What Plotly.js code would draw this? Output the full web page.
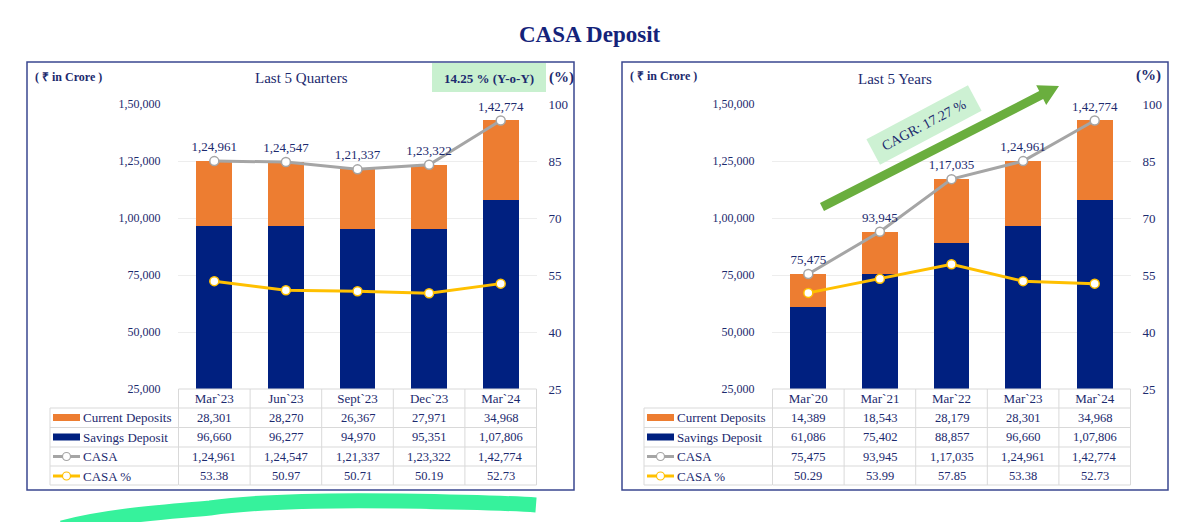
<!DOCTYPE html>
<html>
<head>
<meta charset="utf-8">
<script src="https://cdn.plot.ly/plotly-3.0.1.min.js"></script>
<style>html,body{margin:0;padding:0;background:#fff;}#chart{width:1200px;height:522px;}</style>
</head>
<body>
<div id="chart"></div>
<script>
// ---------- Data ----------
const quarters = ["Mar`23", "Jun`23", "Sept`23", "Dec`23", "Mar`24"];
const qCurrent = [28301, 28270, 26367, 27971, 34968];
const qSavings = [96660, 96277, 94970, 95351, 107806];
const qCasa    = [124961, 124547, 121337, 123322, 142774];
const qCasaPct = [53.38, 50.97, 50.71, 50.19, 52.73];

const years    = ["Mar`20", "Mar`21", "Mar`22", "Mar`23", "Mar`24"];
const yCurrent = [14389, 18543, 28179, 28301, 34968];
const ySavings = [61086, 75402, 88857, 96660, 107806];
const yCasa    = [75475, 93945, 117035, 124961, 142774];
const yCasaPct = [50.29, 53.99, 57.85, 53.38, 52.73];

const amtTickVals = [25000, 50000, 75000, 100000, 125000, 150000];
const amtTickText = ["25,000", "50,000", "75,000", "1,00,000", "1,25,000", "1,50,000"];
const pctTickVals = [25, 40, 55, 70, 85, 100];
const pctTickText = ["25", "40", "55", "70", "85", "100"];

const rowLabels = ["Current Deposits", "Savings Deposit", "CASA", "CASA %"];

// ---------- Helpers ----------
const W = 1200, H = 522;
const X = px => px / W;
const Y = py => 1 - py / H;
function inr(n) {
  const s = String(Math.round(n));
  if (s.length <= 3) return s;
  const last3 = s.slice(-3);
  let rest = s.slice(0, -3);
  const parts = [];
  while (rest.length > 2) { parts.unshift(rest.slice(-2)); rest = rest.slice(0, -2); }
  if (rest.length) parts.unshift(rest);
  return parts.join(",") + "," + last3;
}

const NAVY_TXT = "#1C2A6E";
const ORANGE = "#ED7D31";
const NAVY = "#002080";
const GREY = "#A5A5A5";
const YELLOW = "#FFC000";
const FONT = "Liberation Serif, Times New Roman, serif";

// ---------- Traces ----------
function panelTraces(cats, cur, sav, casa, pct, xa, ya, ya2) {
  return [
    {type: "bar", x: cats, y: sav, name: "Savings Deposit", marker: {color: NAVY}, xaxis: xa, yaxis: ya, hoverinfo: "skip"},
    {type: "bar", x: cats, y: cur, name: "Current Deposits", marker: {color: ORANGE}, xaxis: xa, yaxis: ya, hoverinfo: "skip"},
    {type: "scatter", mode: "lines+markers+text", x: cats, y: casa, name: "CASA",
      text: casa.map(inr), textposition: "top center", textfont: {family: FONT, size: 13, color: NAVY_TXT},
      line: {color: GREY, width: 3}, marker: {size: 9, color: "#fff", line: {color: GREY, width: 1.5}},
      xaxis: xa, yaxis: ya, cliponaxis: false, hoverinfo: "skip"},
    {type: "scatter", mode: "lines+markers", x: cats, y: pct, name: "CASA %",
      line: {color: YELLOW, width: 3}, marker: {size: 9, color: "#fff", line: {color: YELLOW, width: 1.5}},
      xaxis: xa, yaxis: ya2, cliponaxis: false, hoverinfo: "skip"}
  ];
}

const data = [
  ...panelTraces(quarters, qCurrent, qSavings, qCasa, qCasaPct, "x", "y", "y2"),
  ...panelTraces(years, yCurrent, ySavings, yCasa, yCasaPct, "x2", "y3", "y4")
];

// ---------- Axes ----------
const yDomain = [Y(389), Y(104)];
const tickFont = {family: FONT, size: 12, color: NAVY_TXT};
function xAxis(domain, anchor) {
  return {domain: domain, anchor: anchor, type: "category", showgrid: false, zeroline: false, showline: false,
    ticks: "", tickfont: {family: FONT, size: 13, color: NAVY_TXT},
    fixedrange: true};
}
function yAxisL(anchor) {
  return {domain: yDomain, anchor: anchor, range: [25000, 150000], tickvals: amtTickVals, ticktext: amtTickText,
    showgrid: true, gridcolor: "#EDEDED", gridwidth: 1, zeroline: false, showline: false,
    ticks: "outside", ticklen: 14, tickcolor: "rgba(0,0,0,0)", tickfont: tickFont, fixedrange: true};
}
function yAxisR(overlay, anchor) {
  return {overlaying: overlay, anchor: anchor, side: "right", range: [25, 100], tickvals: pctTickVals, ticktext: pctTickText,
    showgrid: false, zeroline: false, showline: false,
    ticks: "outside", ticklen: 8, tickcolor: "rgba(0,0,0,0)", tickfont: {family: FONT, size: 13, color: NAVY_TXT}, fixedrange: true};
}

// ---------- Table, boxes, decorations ----------
const shapes = [];
const annotations = [];
const lineGrey = {color: "#D9D9D9", width: 1};
const rowLinesY = [408, 427.5, 447, 466, 485];
const rowTextY = [417.5, 437, 456.5, 476];

function table(xref, labelLeft, colStart, cats, cur, sav, casa, pct) {
  const n = cats.length;
  shapes.push({type: "line", xref: xref, yref: "paper", x0: -0.5, x1: n - 0.5, y0: Y(389), y1: Y(389), line: lineGrey});
  rowLinesY.forEach(py => {
    shapes.push({type: "line", xref: "paper", yref: "paper", x0: X(labelLeft), x1: X(colStart), y0: Y(py), y1: Y(py), line: lineGrey});
    shapes.push({type: "line", xref: xref, yref: "paper", x0: -0.5, x1: n - 0.5, y0: Y(py), y1: Y(py), line: lineGrey});
  });
  for (let i = 0; i <= n; i++) {
    shapes.push({type: "line", xref: xref, yref: "paper", x0: i - 0.5, x1: i - 0.5, y0: Y(389), y1: Y(485), line: lineGrey});
  }
  shapes.push({type: "line", xref: "paper", yref: "paper", x0: X(labelLeft), x1: X(labelLeft), y0: Y(408), y1: Y(485), line: lineGrey});
  const rows = [cur.map(inr), sav.map(inr), casa.map(inr), pct.map(v => v.toFixed(2))];
  rows.forEach((vals, r) => {
    vals.forEach((v, i) => {
      annotations.push({xref: xref, yref: "paper", x: cats[i], y: Y(rowTextY[r]), text: v, showarrow: false,
        xanchor: "center", yanchor: "middle", font: {family: FONT, size: 12.5, color: NAVY_TXT}});
    });
  });
  const kx0 = labelLeft + 3, kx1 = labelLeft + 30;
  shapes.push({type: "rect", xref: "paper", yref: "paper", x0: X(kx0), x1: X(kx1), y0: Y(rowTextY[0] - 3.5), y1: Y(rowTextY[0] + 3.5), fillcolor: ORANGE, line: {width: 0}});
  shapes.push({type: "rect", xref: "paper", yref: "paper", x0: X(kx0), x1: X(kx1), y0: Y(rowTextY[1] - 3.5), y1: Y(rowTextY[1] + 3.5), fillcolor: NAVY, line: {width: 0}});
  [[2, GREY], [3, YELLOW]].forEach(([r, c]) => {
    const cy = rowTextY[r];
    shapes.push({type: "line", xref: "paper", yref: "paper", x0: X(kx0), x1: X(kx1), y0: Y(cy), y1: Y(cy), line: {color: c, width: 3}});
    const cx = (kx0 + kx1) / 2;
    shapes.push({type: "circle", xref: "paper", yref: "paper", x0: X(cx - 4), x1: X(cx + 4), y0: Y(cy - 4), y1: Y(cy + 4), fillcolor: "#fff", line: {color: c, width: 1.2}});
  });
  rowLabels.forEach((lab, r) => {
    annotations.push({xref: "paper", yref: "paper", x: X(kx1 + 1), y: Y(rowTextY[r]), text: lab, showarrow: false,
      xanchor: "left", yanchor: "middle", font: {family: FONT, size: 13, color: NAVY_TXT}});
  });
}
table("x", 50, 178, quarters, qCurrent, qSavings, qCasa, qCasaPct);
table("x2", 644, 772, years, yCurrent, ySavings, yCasa, yCasaPct);

// panel boxes
shapes.push({type: "rect", xref: "paper", yref: "paper", x0: X(27), x1: X(574), y0: Y(490), y1: Y(62), line: {color: "#3A4790", width: 1.5}, fillcolor: "rgba(0,0,0,0)"});
shapes.push({type: "rect", xref: "paper", yref: "paper", x0: X(622), x1: X(1168), y0: Y(490), y1: Y(62), line: {color: "#3A4790", width: 1.5}, fillcolor: "rgba(0,0,0,0)"});

// YoY box
shapes.push({type: "rect", xref: "paper", yref: "paper", x0: X(432), x1: X(546), y0: Y(92), y1: Y(63), fillcolor: "#C8F0CF", line: {width: 0}, layer: "below"});

// CAGR arrow
function P(px, py) { return X(px).toFixed(5) + "," + Y(py).toFixed(5); }
const arrowPath = "M " + P(820.0, 203.0) + " L " + P(1039.2, 91.1) + " L " + P(1036.2, 85.3) + " L " + P(1059, 86) +
  " L " + P(1046.2, 104.9) + " L " + P(1043.2, 99.1) + " L " + P(824.0, 211.0) + " Z";
shapes.push({type: "path", xref: "paper", yref: "paper", path: arrowPath, fillcolor: "#6AAE3E", line: {width: 0}});

// green highlighter stroke
const hlPath = "M " + P(62, 528) + " C " + P(110, 515) + " " + P(170, 512) + " " + P(210, 508) +
  " C " + P(260, 501) + " " + P(330, 500) + " " + P(400, 501) + " C " + P(460, 502) + " " + P(510, 503) + " " + P(536, 505);
shapes.push({type: "path", xref: "paper", yref: "paper", path: hlPath, line: {color: "#36F29C", width: 15}, fillcolor: "rgba(0,0,0,0)"});

// texts
const headFont = {family: FONT, size: 15, color: NAVY_TXT};
annotations.push(
  {xref: "paper", yref: "paper", x: X(590), y: Y(34), text: "<b>CASA Deposit</b>", showarrow: false, xanchor: "center", yanchor: "middle",
    font: {family: FONT, size: 23, color: "#14237A"}},
  {xref: "paper", yref: "paper", x: X(33), y: Y(77), text: "<b>( ₹ in Crore )</b>", showarrow: false, xanchor: "left", yanchor: "middle",
    font: {family: FONT, size: 12, color: NAVY_TXT}},
  {xref: "paper", yref: "paper", x: X(628), y: Y(76), text: "<b>( ₹ in Crore )</b>", showarrow: false, xanchor: "left", yanchor: "middle",
    font: {family: FONT, size: 12, color: NAVY_TXT}},
  {xref: "paper", yref: "paper", x: X(301), y: Y(78), text: "Last 5 Quarters", showarrow: false, xanchor: "center", yanchor: "middle", font: headFont},
  {xref: "paper", yref: "paper", x: X(895), y: Y(79), text: "Last 5 Years", showarrow: false, xanchor: "center", yanchor: "middle", font: headFont},
  {xref: "paper", yref: "paper", x: X(561), y: Y(77), text: "<b>(%)</b>", showarrow: false, xanchor: "center", yanchor: "middle",
    font: {family: FONT, size: 15, color: NAVY_TXT}},
  {xref: "paper", yref: "paper", x: X(1148), y: Y(75), text: "<b>(%)</b>", showarrow: false, xanchor: "center", yanchor: "middle",
    font: {family: FONT, size: 15, color: NAVY_TXT}},
  {xref: "paper", yref: "paper", x: X(489), y: Y(78), text: "<b>14.25 % (Y-o-Y)</b>", showarrow: false, xanchor: "center", yanchor: "middle",
    font: {family: FONT, size: 13, color: NAVY_TXT}},
  {xref: "paper", yref: "paper", x: X(924), y: Y(125), text: "CAGR: 17.27 %", showarrow: false, xanchor: "center", yanchor: "middle",
    textangle: -28, bgcolor: "#CDF1D3", width: 112, height: 26,
    font: {family: FONT, size: 14, color: NAVY_TXT}}
);

const layout = {
  width: W, height: H,
  margin: {l: 0, r: 0, t: 0, b: 0},
  paper_bgcolor: "#ffffff", plot_bgcolor: "rgba(0,0,0,0)",
  showlegend: false, barmode: "stack", bargap: 0.5,
  xaxis: xAxis([X(178), X(537)], "y"),
  yaxis: yAxisL("x"),
  yaxis2: yAxisR("y", "x"),
  xaxis2: xAxis([X(772), X(1131)], "y3"),
  yaxis3: yAxisL("x2"),
  yaxis4: yAxisR("y3", "x2"),
  shapes: shapes,
  annotations: annotations,
  font: {family: FONT, color: NAVY_TXT}
};

Plotly.newPlot("chart", data, layout, {displayModeBar: false, staticPlot: true});
</script>
</body>
</html>
